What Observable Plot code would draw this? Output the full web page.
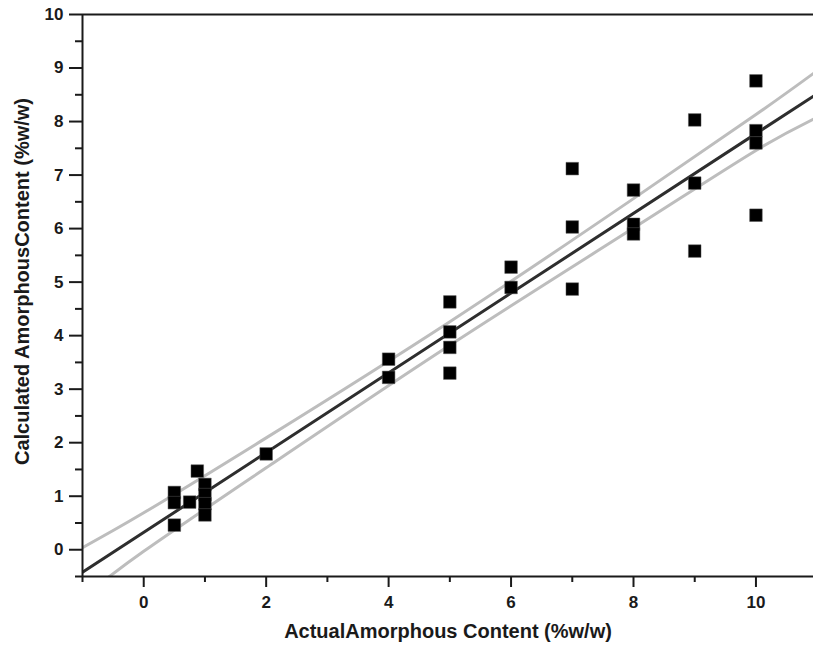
<!DOCTYPE html>
<html>
<head>
<meta charset="utf-8">
<script src="https://cdn.jsdelivr.net/npm/d3@7"></script>
<script src="https://cdn.jsdelivr.net/npm/@observablehq/plot@0.6"></script>
<style>
  html, body { margin: 0; padding: 0; background: #fff; }
  #chart svg { display: block; }
</style>
</head>
<body>
<div id="chart"></div>
<script>
// Measured points: actual vs calculated amorphous content (%w/w)
const actualX = [0.5, 0.5, 0.5, 0.75, 0.875, 1, 1, 1, 1, 2, 4, 4, 5, 5, 5, 5, 6, 6, 7, 7, 7, 8, 8, 8, 9, 9, 9, 10, 10, 10, 10];
const calcY   = [1.07, 0.88, 0.46, 0.89, 1.47, 1.22, 1.03, 0.86, 0.65, 1.79, 3.56, 3.22, 4.63, 4.07, 3.78, 3.30, 5.28, 4.90, 7.12, 6.03, 4.87, 6.72, 6.08, 5.90, 8.03, 6.85, 5.58, 8.76, 7.83, 7.60, 6.25];

// Regression line (end points)
const fitX = [-1, 11];
const fitY = [-0.42, 8.52];

// Confidence band
const bandX     = [-1, 0, 2, 5, 8, 10, 11];
const bandUpper = [0.04, 0.69, 2.09, 4.26, 6.56, 8.13, 8.95];
const bandLower = [-0.89, -0.03, 1.53, 3.82, 6.01, 7.46, 8.08];

// Ticks
const xMajor = [0, 2, 4, 6, 8, 10];
const xMinor = [-1, 1, 3, 5, 7, 9];
const yMajor = [0, 1, 2, 3, 4, 5, 6, 7, 8, 9, 10];
const yMinor = [-0.5, 0.5, 1.5, 2.5, 3.5, 4.5, 5.5, 6.5, 7.5, 8.5, 9.5];

const xTitle = "ActualAmorphous Content (%w/w)";
const yTitle = "Calculated AmorphousContent (%w/w)";

const points = actualX.map((x, i) => ({x, y: calcY[i]}));
const fit = fitX.map((x, i) => ({x, y: fitY[i]}));
const upper = bandX.map((x, i) => ({x, y: bandUpper[i]}));
const lower = bandX.map((x, i) => ({x, y: bandLower[i]}));

const axisColor = "#1a1a1a";
const font = "'Liberation Sans', Arial, Helvetica, sans-serif";

const chart = Plot.plot({
  width: 813,
  height: 648,
  marginLeft: 82,
  marginRight: 0,
  marginTop: 14,
  marginBottom: 72,
  style: {fontFamily: font, fontWeight: "bold", color: axisColor, background: "#fff"},
  x: {domain: [-1, 10.94]},
  y: {domain: [-0.5, 10]},
  marks: [
    Plot.line(upper, {x: "x", y: "y", stroke: "#bdbdbd", strokeWidth: 3, curve: "natural", clip: true}),
    Plot.line(lower, {x: "x", y: "y", stroke: "#bdbdbd", strokeWidth: 3, curve: "natural", clip: true}),
    Plot.line(fit, {x: "x", y: "y", stroke: "#2e2e2e", strokeWidth: 3, clip: true}),
    Plot.dot(points, {x: "x", y: "y", symbol: "square", r: 7.1, fill: "#000", stroke: "#555", strokeWidth: 0.5}),
    Plot.ruleY([10], {stroke: axisColor, strokeWidth: 2}),
    Plot.ruleX([-1], {stroke: axisColor, strokeWidth: 2}),
    Plot.ruleY([-0.5], {stroke: axisColor, strokeWidth: 2}),
    Plot.axisX({ticks: xMajor, tickSize: 11, tickPadding: 8, tickFormat: d => String(d), fontSize: 17, fontWeight: "bold", strokeWidth: 2, label: null}),
    Plot.axisX({ticks: xMinor, tickSize: 6, tickFormat: () => "", strokeWidth: 2, label: null}),
    Plot.axisY({ticks: yMajor, tickSize: 13, tickPadding: 6, tickFormat: d => String(d), fontSize: 17, fontWeight: "bold", strokeWidth: 2, label: null}),
    Plot.axisY({ticks: yMinor, tickSize: 7, tickFormat: () => "", strokeWidth: 2, label: null}),
    Plot.text([xTitle], {frameAnchor: "bottom", dy: 55, lineAnchor: "middle", fontSize: 20, fontWeight: "bold", fill: axisColor}),
    Plot.text([yTitle], {frameAnchor: "left", dx: -60, dy: -14, rotate: -90, textAnchor: "middle", lineAnchor: "middle", fontSize: 20, fontWeight: "bold", fill: axisColor})
  ]
});

document.getElementById("chart").appendChild(chart);
</script>
</body>
</html>
